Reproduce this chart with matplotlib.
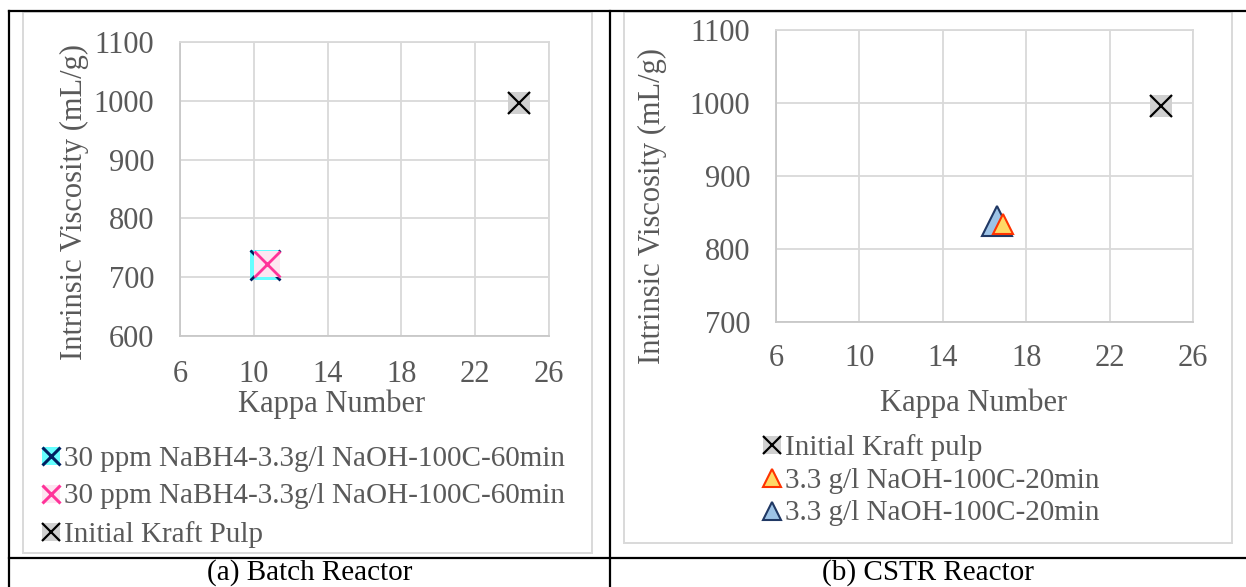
import matplotlib
matplotlib.use("Agg")
import matplotlib.pyplot as plt
from matplotlib.lines import Line2D
from matplotlib.patches import Rectangle

plt.rcParams['font.family'] = ['Liberation Serif', 'DejaVu Serif']

# ---------------- data ----------------
batch_labels = ["30 ppm NaBH4-3.3g/l NaOH-100C-60min",
                "30 ppm NaBH4-3.3g/l NaOH-100C-60min",
                "Initial Kraft Pulp"]
batch_kappa = [10.6, 10.7, 24.4]
batch_visc = [720, 722, 997]

cstr_labels = ["Initial Kraft pulp",
               "3.3 g/l NaOH-100C-20min",
               "3.3 g/l NaOH-100C-20min"]
cstr_kappa = [24.45, 16.9, 16.6]
cstr_visc = [996, 834, 838]

x_ticks = [6, 10, 14, 18, 22, 26]
batch_yticks = [600, 700, 800, 900, 1000, 1100]
cstr_yticks = [700, 800, 900, 1000, 1100]

captions = ["(a) Batch Reactor", "(b) CSTR Reactor"]
xlabel = "Kappa Number"
ylabel = "Intrinsic Viscosity (mL/g)"

# ---------------- style ----------------
W, H = 1246, 587
DPI = 100
PX = 72.0 / DPI  # points per pixel
TXT = '#595959'
GRID = '#D9D9D9'
FS = 22
LFS = 21

fig = plt.figure(figsize=(W / DPI, H / DPI), dpi=DPI)


def fx(x):
    return x / W


def fy(y):
    return 1 - y / H


def add_axes_px(l, t, r, b):
    return fig.add_axes([fx(l), fy(b), (r - l) / W, (b - t) / H])


def style_axes(ax, yticks, xpad, ypad):
    ax.set_xlim(x_ticks[0], x_ticks[-1])
    ax.set_ylim(yticks[0], yticks[-1])
    ax.set_xticks(x_ticks)
    ax.set_yticks(yticks)
    ax.grid(True, color=GRID, linewidth=1.3)
    ax.set_axisbelow(True)
    for s in ax.spines.values():
        s.set_color(GRID)
        s.set_linewidth(1.3)
    ax.spines['left'].set_color('#C8C8C8')
    ax.spines['bottom'].set_color('#C8C8C8')
    ax.tick_params(length=0, labelsize=FS, labelcolor=TXT)
    ax.tick_params(axis='x', pad=xpad)
    ax.tick_params(axis='y', pad=ypad)


# chart frames
fig.add_artist(Rectangle((fx(23), fy(553)), (592 - 23) / W, (553 - 12) / H,
                         transform=fig.transFigure, fill=False,
                         edgecolor=GRID, linewidth=1.4))
fig.add_artist(Rectangle((fx(624), fy(543)), (1232 - 624) / W, (543 - 12) / H,
                         transform=fig.transFigure, fill=False,
                         edgecolor=GRID, linewidth=1.4))

# ---------------- batch chart ----------------
ax1 = add_axes_px(180, 42, 549, 336)
style_axes(ax1, batch_yticks, 17.5, 18.5)

# series 1: cyan square + navy x
ax1.plot([batch_kappa[0]], [batch_visc[0]], ls='none', marker='s', ms=30 * PX,
         mfc='#66FFFF', mec='#66FFFF', mew=0, zorder=3)
ax1.plot([batch_kappa[0]], [batch_visc[0]], ls='none', marker='x', ms=30 * PX,
         mec='#002060', mew=2.0, zorder=3)
# series 2: pink
ax1.plot([batch_kappa[1]], [batch_visc[1]], ls='none', marker='s', ms=26 * PX,
         mfc='#FDE6F1', mec='#FDE6F1', mew=0, zorder=4)
ax1.plot([batch_kappa[1]], [batch_visc[1]], ls='none', marker='x', ms=26 * PX,
         mec='#FF3399', mew=2.0, zorder=4)
# series 3: initial kraft pulp
ax1.plot([batch_kappa[2]], [batch_visc[2]], ls='none', marker='s', ms=22 * PX,
         mfc='#D0D0D0', mec='#D0D0D0', mew=0, zorder=3)
ax1.plot([batch_kappa[2]], [batch_visc[2]], ls='none', marker='x', ms=22 * PX,
         mec='black', mew=1.6, zorder=3)

ax1.set_xlabel(xlabel, fontsize=FS, color=TXT)
ax1.set_ylabel(ylabel, fontsize=FS, color=TXT)
ax1.xaxis.set_label_coords((332 - 180) / 369, (336 - 404) / 294)
ax1.xaxis.label.set_verticalalignment('center')
ax1.yaxis.set_label_coords((74 - 180) / 369, (336 - 202) / 294)
ax1.yaxis.label.set_verticalalignment('center')

# ---------------- CSTR chart ----------------
ax2 = add_axes_px(776, 30, 1193, 322)
style_axes(ax2, cstr_yticks, 16, 18.5)

ax2.plot([cstr_kappa[0]], [cstr_visc[0]], ls='none', marker='s', ms=22 * PX,
         mfc='#D0D0D0', mec='#D0D0D0', mew=0, zorder=3)
ax2.plot([cstr_kappa[0]], [cstr_visc[0]], ls='none', marker='x', ms=22 * PX,
         mec='black', mew=1.6, zorder=3)
ax2.plot([cstr_kappa[2]], [cstr_visc[2]], ls='none', marker='^', ms=30 * PX,
         mfc='#9DC3E6', mec='#203864', mew=1.5, zorder=3)
ax2.plot([cstr_kappa[1]], [cstr_visc[1]], ls='none', marker='^', ms=20 * PX,
         mfc='#FFD966', mec='#FF3300', mew=1.5, zorder=4)

ax2.set_xlabel(xlabel, fontsize=FS, color=TXT)
ax2.set_ylabel(ylabel, fontsize=FS, color=TXT)
ax2.xaxis.set_label_coords((974 - 776) / 417, (322 - 403) / 292)
ax2.xaxis.label.set_verticalalignment('center')
ax2.yaxis.set_label_coords((652 - 776) / 417, (322 - 206) / 292)
ax2.yaxis.label.set_verticalalignment('center')

# ---------------- legends ----------------
LMS = 18 * PX


def xhandle(fill, edge, mew=1.8):
    return (Line2D([], [], ls='none', marker='s', ms=LMS, mfc=fill, mec=fill, mew=0),
            Line2D([], [], ls='none', marker='x', ms=LMS, mec=edge, mew=mew))


def trihandle(fill, edge):
    return Line2D([], [], ls='none', marker='^', ms=LMS * 0.95, mfc=fill, mec=edge, mew=1.5)


h1 = [xhandle('#66FFFF', '#002060', 2.2), xhandle('#FDE6F1', '#FF3399', 2.2),
      xhandle('#D0D0D0', 'black', 1.6)]
fig.legend(h1, batch_labels, loc='upper left',
           bbox_to_anchor=(fx(42), fy(446)), bbox_transform=fig.transFigure,
           frameon=False, borderpad=0, borderaxespad=0, handlelength=0.62,
           handletextpad=0.14, labelspacing=0.39, fontsize=LFS, labelcolor=TXT,
           handleheight=0.6)

h2 = [xhandle('#D0D0D0', 'black', 1.6), trihandle('#FFD966', '#FF3300'),
      trihandle('#9DC3E6', '#203864')]
fig.legend(h2, cstr_labels, loc='upper left',
           bbox_to_anchor=(fx(763), fy(434)), bbox_transform=fig.transFigure,
           frameon=False, borderpad=0, borderaxespad=0, handlelength=0.62,
           handletextpad=0.14, labelspacing=0.23, fontsize=LFS, labelcolor=TXT,
           handleheight=0.6)

# ---------------- table lines & captions ----------------
for (x0, y0, x1, y1) in [(9, 11, 1246, 11), (9, 558, 1246, 558),
                         (9, 11, 9, 587), (610, 11, 610, 587)]:
    fig.add_artist(Line2D([fx(x0), fx(x1)], [fy(y0), fy(y1)],
                          transform=fig.transFigure, color='black', linewidth=1.6))

fig.text(fx(310), fy(586), captions[0], ha='center', va='bottom',
         fontsize=LFS, color='black')
fig.text(fx(928), fy(586), captions[1], ha='center', va='bottom',
         fontsize=LFS, color='black')

fig.savefig('out.png', dpi=DPI)
